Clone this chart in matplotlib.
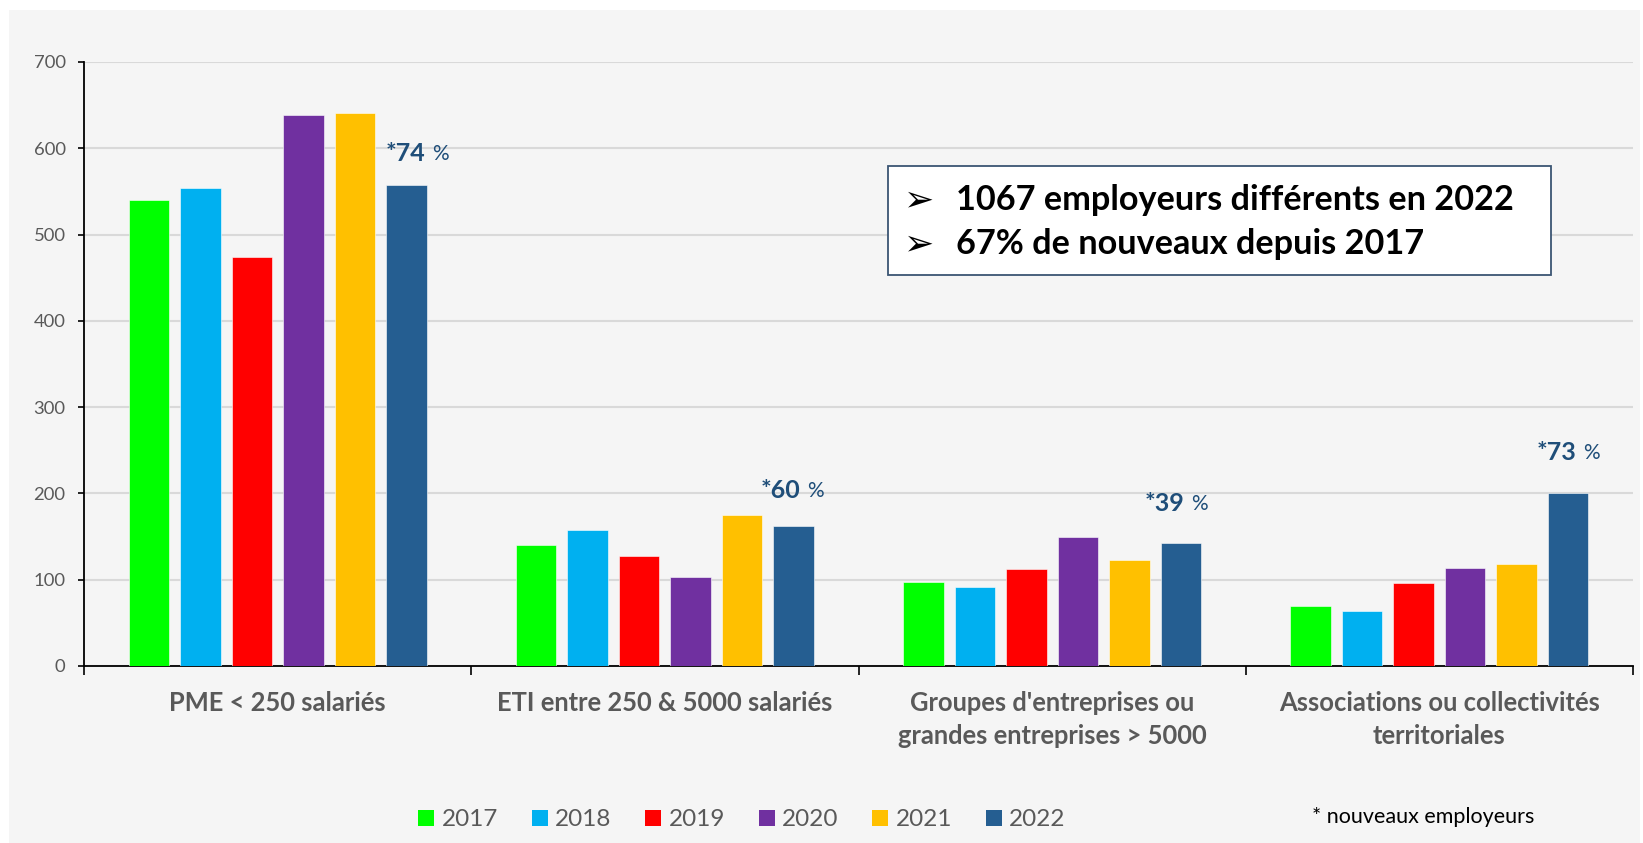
import matplotlib
matplotlib.use("Agg")
import matplotlib.pyplot as plt
import numpy as np
from matplotlib.patches import Rectangle, Patch

categories = ["PME < 250 salariés",
              "ETI entre 250 & 5000 salariés",
              "Groupes d'entreprises ou\ngrandes entreprises > 5000",
              "Associations ou collectivités\nterritoriales"]
years = ["2017", "2018", "2019", "2020", "2021", "2022"]
values = {
    "2017": [540, 140, 97, 69],
    "2018": [554, 158, 91, 64],
    "2019": [474, 128, 112, 96],
    "2020": [639, 103, 149, 114],
    "2021": [641, 175, 123, 118],
    "2022": [557, 162, 143, 201],
}
colors = ["#00ff00", "#00b0f0", "#ff0000", "#7030a0", "#ffc000", "#255e91"]
new_pct = ["74", "60", "39", "73"]
box_lines = ["1067 employeurs différents en 2022", "67% de nouveaux depuis 2017"]
yticks = [0, 100, 200, 300, 400, 500, 600, 700]

FONT = ["Lato", "DejaVu Sans"]
plt.rcParams["font.family"] = FONT

W, H = 1643, 843
fig = plt.figure(figsize=(W / 100, H / 100), dpi=100, facecolor="white")
fig.patches.append(Rectangle((9 / W, 0), (1640 - 9) / W, (H - 10) / H,
                             transform=fig.transFigure, facecolor="#f5f5f5",
                             edgecolor="none", zorder=-5))

ax = fig.add_axes([84 / W, 1 - 666 / H, (1633 - 84) / W, (666 - 62) / H])
ax.set_facecolor("none")
ax.set_zorder(1)

n = len(years)
step = 0.133
bw = 0.104
centers = np.arange(len(categories)) + 0.5
for i, (yr, c) in enumerate(zip(years, colors)):
    xs = centers + (i - (n - 1) / 2) * step
    ax.bar(xs, values[yr], width=bw, color=c, edgecolor="white", linewidth=0.4, zorder=3)

# annotations above 2022 bars ("*NN" bold + "%" regular)
last = values[years[-1]]
x_last = centers + ((n - 1) / 2) * step
dx_off = [8, -1, -3, 0]     # points
dy_off = [23, 26, 28, 29]   # points
for j, (xv, yv, p) in enumerate(zip(x_last, last, new_pct)):
    ax.annotate(f"*{p}", xy=(xv, yv), xytext=(dx_off[j] + 5.8, dy_off[j]),
                textcoords="offset points", ha="right", va="center",
                fontsize=18, fontweight="bold", color="#1f4e79", zorder=5)
    ax.annotate("%", xy=(xv, yv), xytext=(dx_off[j] + 10.5, dy_off[j] - 0.5),
                textcoords="offset points", ha="left", va="center",
                fontsize=15, color="#1f4e79", zorder=5)

ax.set_xlim(0, len(categories))
ax.set_ylim(0, 700)
ax.set_yticks(yticks)
ax.yaxis.grid(True, color="#d9d9d9", linewidth=1.5, zorder=0)
ax.set_axisbelow(True)
ax.tick_params(axis="y", length=4.3, width=1.2, pad=9, labelsize=13.3, labelcolor="#595959",
               color="black")
ax.set_xticks(np.arange(len(categories) + 1))
ax.set_xticklabels([])
ax.tick_params(axis="x", which="major", length=6.5, width=1.2, color="black")
ax.set_xticks(centers, minor=True)
ax.set_xticklabels(categories, minor=True, fontsize=18.4, fontweight="bold",
                   color="#595959", linespacing=1.45)
ax.tick_params(axis="x", which="minor", length=0, pad=18)
for s in ["top", "right"]:
    ax.spines[s].set_visible(False)
for s in ["left", "bottom"]:
    ax.spines[s].set_color("black")
    ax.spines[s].set_linewidth(1.3)

# text box
bx0, bx1, by0, by1 = 887.5, 1551, 165.6, 274.5
fig.patches.append(Rectangle((bx0 / W, 1 - by1 / H), (bx1 - bx0) / W, (by1 - by0) / H,
                             transform=fig.transFigure, facecolor="white",
                             edgecolor="#3b5573", linewidth=1.3, zorder=4))
for k, (line, yc) in enumerate(zip(box_lines, [200, 244])):
    fig.text(904 / W, 1 - yc / H, "➢", fontsize=26, color="black",
             family=["DejaVu Sans"], va="center", ha="left", zorder=5)
    fig.text(956 / W, 1 - yc / H, line, fontsize=24.7, fontweight="bold", color="black",
             va="center", ha="left", zorder=5)

handles = [Patch(facecolor=c, edgecolor="none") for c in colors]
fig.legend(handles, years, loc="center", bbox_to_anchor=(742 / W, 1 - 820 / H), ncol=6,
           frameon=False, fontsize=17.5, handlelength=0.65, handleheight=0.65,
           handletextpad=0.3, columnspacing=1.4, labelcolor="#595959")

fig.text(1312 / W, 1 - 817 / H, "* nouveaux employeurs", fontsize=15.5, color="black",
         va="center", ha="left")

fig.savefig("out.png", dpi=100, facecolor=fig.get_facecolor())
